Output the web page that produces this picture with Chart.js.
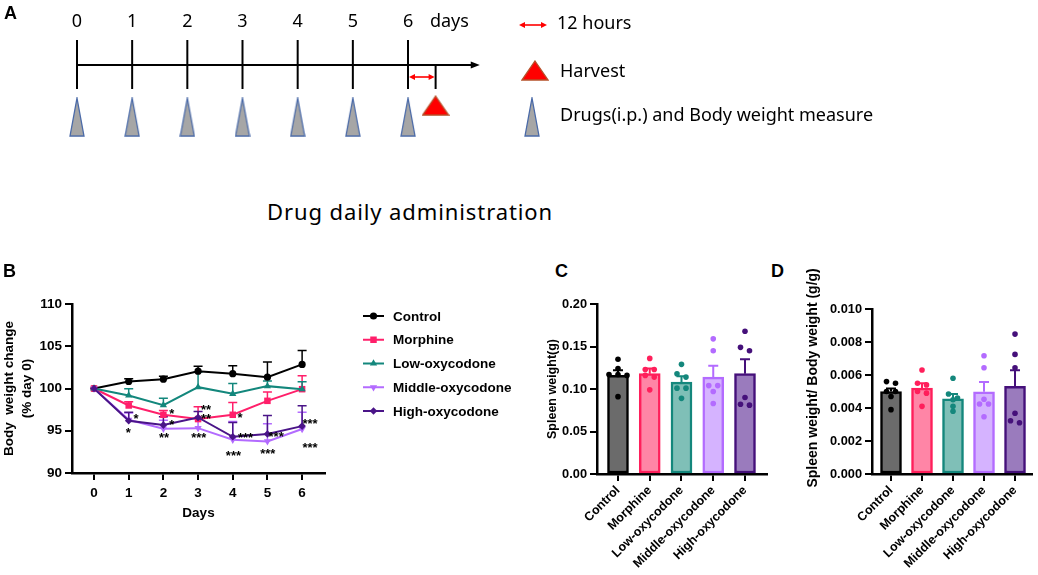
<!DOCTYPE html>
<html>
<head>
<meta charset="utf-8">
<title>Body weight and spleen weight</title>
<script src="https://cdn.jsdelivr.net/npm/chart.js@4.4.1/dist/chart.umd.min.js"></script>
<style>
  body { margin: 0; background: #fff; }
  #page { position: relative; width: 1038px; height: 575px; overflow: hidden; background: #fff; }
  .box { position: absolute; }
  .letter { position: absolute; font: bold 18px "Liberation Sans", Arial, sans-serif; color: #000; line-height: 18px; z-index: 2; }
  #caption { position: absolute; left: 267px; top: 196px; font: 22px "Noto Sans", sans-serif; letter-spacing: 0.9px; color: #000; white-space: nowrap; }
</style>
</head>
<body>
<div id="page">
  <div class="letter" style="left:4px;top:4px">A</div>
  <div class="letter" style="left:3px;top:262px">B</div>
  <div class="letter" style="left:555px;top:262px">C</div>
  <div class="letter" style="left:771px;top:262px">D</div>
  <div id="caption">Drug daily administration</div>

  <div class="box" style="left:0;top:0;width:1038px;height:240px"><canvas id="timeline"></canvas></div>
  <div class="box" style="left:0;top:290px;width:530px;height:231px"><canvas id="weight"></canvas></div>
  <div class="box" style="left:540px;top:290px;width:240px;height:285px"><canvas id="spleen"></canvas></div>
  <div class="box" style="left:800px;top:250px;width:238px;height:325px"><canvas id="ratio"></canvas></div>
</div>

<script>
// ---- A: schedule ----
const timelineDays = [0, 1, 2, 3, 4, 5, 6];
const harvestDay = 6.5;      // 12 hours after the last dose
const timelineEnd = 7.3;

// ---- B: body weight change (% of day 0), mean and SEM ----
const days = [0, 1, 2, 3, 4, 5, 6];
const controlMean  = [100, 100.83, 101.1, 102.05, 101.75, 101.34, 102.85];
const controlSem   = [0, 0.31, 0.36, 0.59, 0.95, 1.81, 1.66];
const morphineMean = [100, 97.99, 96.89, 96.38, 96.89, 98.54, 99.92];
const morphineSem  = [0, 0.45, 0.5, 1.45, 1.46, 1.06, 1.58];
const lowMean      = [100, 99.17, 98.03, 100.16, 99.37, 100.28, 99.92];
const lowSem       = [0, 0.79, 0.83, 1.8, 1.23, 0.6, 0.88];
const middleMean   = [100, 96.3, 95.24, 95.31, 93.94, 93.74, 95.2];
const middleSem    = [0, 0.8, 1.0, 1.2, 2.15, 2.1, 2.0];
const highMean     = [100, 96.18, 95.67, 96.57, 94.29, 94.61, 95.55];
const highSem      = [0, 1.0, 1.0, 0.7, 1.7, 2.2, 2.4];

// significance marks: [day, value, text]
const starMarks = [
  [0.99, 95.12, '*'], [1.21, 96.7, '*'],
  [2.24, 97.28, '*'], [2.24, 95.98, '*'], [2.02, 94.53, '**'],
  [3.23, 97.76, '**'], [3.23, 96.77, '**'], [3.02, 94.45, '***'],
  [4.21, 96.89, '*'], [4.37, 94.45, '***'], [4.02, 92.32, '***'],
  [5.25, 94.65, '***'], [5.01, 92.56, '***'],
  [6.23, 96.1, '***'], [6.23, 93.27, '***']
];

// ---- C / D ----
const groups = ['Control', 'Morphine', 'Low-oxycodone', 'Middle-oxycodone', 'High-oxycodone'];
const groupFill = ['#6b6b6b', '#ff85a6', '#7fbfb7', '#d5b3ff', '#9a7bbd'];
const groupEdge = ['#000000', '#ff1f5b', '#14877c', '#b36bff', '#45107a'];

const spleenMean = [0.116, 0.118, 0.108, 0.114, 0.118];
const spleenSem  = [0.006, 0.006, 0.007, 0.0135, 0.017];
const spleenPoints = [
  [0.135, 0.124, 0.117, 0.117, 0.116, 0.091],
  [0.136, 0.123, 0.123, 0.116, 0.114, 0.099],
  [0.129, 0.118, 0.114, 0.101, 0.101, 0.089],
  [0.159, 0.145, 0.104, 0.104, 0.097, 0.083],
  [0.168, 0.149, 0.145, 0.090, 0.082, 0.081]
];
const spleenTicks = [0, 0.05, 0.10, 0.15, 0.20];

const ratioMean = [0.00500, 0.00520, 0.00455, 0.00498, 0.00532];
const ratioSem  = [0.00018, 0.0003, 0.0003, 0.0006, 0.00097];
const ratioPoints = [
  [0.0056, 0.0055, 0.0050, 0.0050, 0.0047, 0.0039],
  [0.0063, 0.0055, 0.0054, 0.0050, 0.0049, 0.0041],
  [0.0058, 0.00485, 0.0046, 0.0045, 0.0041, 0.0038],
  [0.00717, 0.00644, 0.00453, 0.00424, 0.00424, 0.00347],
  [0.00848, 0.00725, 0.00644, 0.00368, 0.00323, 0.00311]
];
const ratioTicks = [0, 0.002, 0.004, 0.006, 0.008, 0.010];

const BOLD = '"Liberation Sans", Arial, sans-serif';
const PLAIN = '"Noto Sans", sans-serif';

Chart.defaults.animation = false;
Chart.defaults.events = [];
Chart.defaults.color = '#000';
Chart.defaults.font.family = BOLD;
Chart.defaults.plugins.legend.display = false;
Chart.defaults.plugins.tooltip.enabled = false;

const drawPoint = Chart.helpers && Chart.helpers.drawPoint;

// ---------- A ----------
function triangleCanvas(w, h, fill, stroke) {
  const c = document.createElement('canvas');
  c.width = w; c.height = h;
  const g = c.getContext('2d');
  g.beginPath();
  g.moveTo(w / 2, 1); g.lineTo(w - 1, h - 1); g.lineTo(1, h - 1); g.closePath();
  g.fillStyle = fill; g.fill();
  g.lineWidth = 1.3; g.strokeStyle = stroke; g.stroke();
  return c;
}
const drugTri = triangleCanvas(16, 40, '#a6a6a6', '#4a6aa8');
const harvestTri = triangleCanvas(28, 21, '#ff0000', '#b5512a');

function redArrow(ctx, x0, x1, y) {
  ctx.save();
  ctx.strokeStyle = '#ff0000'; ctx.fillStyle = '#ff0000'; ctx.lineWidth = 1.6;
  ctx.beginPath(); ctx.moveTo(x0 + 3, y); ctx.lineTo(x1 - 3, y); ctx.stroke();
  [[x0, 1], [x1, -1]].forEach(([x, d]) => {
    ctx.beginPath(); ctx.moveTo(x, y); ctx.lineTo(x + 6 * d, y - 3); ctx.lineTo(x + 6 * d, y + 3); ctx.closePath(); ctx.fill();
  });
  ctx.restore();
}

const timelinePlugin = {
  id: 'timeline',
  afterDraw(chart) {
    const ctx = chart.ctx, xs = chart.scales.x;
    const px = d => xs.getPixelForValue(d);
    ctx.save();
    ctx.strokeStyle = '#000'; ctx.lineWidth = 2;
    // main axis + arrow head
    const tip = px(timelineEnd);
    ctx.beginPath(); ctx.moveTo(px(0), 65); ctx.lineTo(tip - 6, 65); ctx.stroke();
    ctx.fillStyle = '#000';
    ctx.beginPath(); ctx.moveTo(tip, 65); ctx.lineTo(tip - 9, 61.5); ctx.lineTo(tip - 9, 68.5); ctx.closePath(); ctx.fill();
    timelineDays.forEach(d => {
      ctx.beginPath(); ctx.moveTo(px(d), 40); ctx.lineTo(px(d), 89); ctx.stroke();
    });
    ctx.beginPath(); ctx.moveTo(px(harvestDay), 65); ctx.lineTo(px(harvestDay), 89); ctx.stroke();
    redArrow(ctx, px(6) + 1, px(harvestDay) - 1, 77);

    ctx.font = '18px ' + PLAIN;
    ctx.textAlign = 'center'; ctx.textBaseline = 'middle';
    timelineDays.forEach(d => ctx.fillText(String(d), px(d), 22));
    ctx.fillText('days', px(6.75), 22);

    // key
    ctx.textAlign = 'left';
    redArrow(ctx, 519, 547, 25);
    ctx.fillText('12 hours', 557, 24);
    ctx.drawImage(harvestTri, 521, 60);
    ctx.fillText('Harvest', 560, 72);
    ctx.drawImage(drugTri, 524, 97);
    ctx.fillText('Drugs(i.p.) and Body weight measure', 560, 116);
    ctx.restore();
  }
};

new Chart(document.getElementById('timeline'), {
  type: 'scatter',
  data: {
    datasets: [
      { label: 'Drugs(i.p.) and Body weight measure', data: timelineDays.map(d => ({ x: d, y: 117 })), pointStyle: drugTri },
      { label: 'Harvest', data: [{ x: harvestDay, y: 105 }], pointStyle: harvestTri }
    ]
  },
  options: {
    responsive: true, maintainAspectRatio: false,
    layout: { padding: { left: 21.8, right: 574.8, top: 0, bottom: 0 } },
    scales: {
      x: { type: 'linear', min: -1, max: 7, display: false },
      y: { min: 0, max: 240, reverse: true, display: false }
    }
  },
  plugins: [timelinePlugin]
});

// ---------- B ----------
const lineSeries = [
  { label: 'Control', mean: controlMean, sem: controlSem, color: '#000000', style: 'circle', radius: 3.6, rotation: 0 },
  { label: 'Morphine', mean: morphineMean, sem: morphineSem, color: '#ff1f6a', style: 'rect', radius: 4.6, rotation: 0 },
  { label: 'Low-oxycodone', mean: lowMean, sem: lowSem, color: '#13877c', style: 'triangle', radius: 4.2, rotation: 0 },
  { label: 'Middle-oxycodone', mean: middleMean, sem: middleSem, color: '#b36bff', style: 'triangle', radius: 4.2, rotation: 180 },
  { label: 'High-oxycodone', mean: highMean, sem: highSem, color: '#4a1488', style: 'rectRot', radius: 3.8, rotation: 0 }
];

const weightErrorBars = {
  id: 'weightErrorBars',
  beforeDatasetsDraw(chart) {
    const ctx = chart.ctx, xs = chart.scales.x, ys = chart.scales.y;
    ctx.save();
    ctx.lineWidth = 1.5;
    chart.data.datasets.forEach(ds => {
      ctx.strokeStyle = ds.borderColor;
      ds.sem.forEach((s, j) => {
        if (!s) return;
        const x = xs.getPixelForValue(days[j]);
        const y0 = ys.getPixelForValue(ds.mean[j]);
        const y1 = ys.getPixelForValue(ds.mean[j] + s);
        ctx.beginPath();
        ctx.moveTo(x, y0); ctx.lineTo(x, y1);
        ctx.moveTo(x - 4.5, y1); ctx.lineTo(x + 4.5, y1);
        ctx.stroke();
      });
    });
    ctx.restore();
  },
  afterDatasetsDraw(chart) {
    const ctx = chart.ctx, xs = chart.scales.x, ys = chart.scales.y;
    ctx.save();
    ctx.font = 'bold 13px ' + BOLD;
    ctx.fillStyle = '#000'; ctx.textAlign = 'center'; ctx.textBaseline = 'alphabetic';
    starMarks.forEach(([d, v, t]) => ctx.fillText(t, xs.getPixelForValue(d), ys.getPixelForValue(v) + 7));
    ctx.restore();
  },
  afterDraw(chart) {
    const ctx = chart.ctx;
    ctx.save();
    ctx.font = 'bold 13.5px ' + BOLD;
    ctx.textBaseline = 'middle'; ctx.textAlign = 'left';
    lineSeries.forEach((s, k) => {
      const y = 26 + k * 23.75;
      ctx.strokeStyle = s.color; ctx.fillStyle = s.color; ctx.lineWidth = 2;
      ctx.beginPath(); ctx.moveTo(363, y); ctx.lineTo(384, y); ctx.stroke();
      if (drawPoint) drawPoint(ctx, { pointStyle: s.style, radius: s.radius, rotation: s.rotation, borderWidth: 0 }, 373.5, y);
      ctx.fillStyle = '#000';
      ctx.fillText(s.label, 393, y + 1);
    });
    ctx.restore();
  }
};

const axisTickGrid = { display: true, drawOnChartArea: false, drawTicks: true, tickLength: 7, color: '#000', lineWidth: 2 };
const axisBorder = { display: true, color: '#000', width: 2.5 };

new Chart(document.getElementById('weight'), {
  type: 'line',
  data: {
    datasets: lineSeries.map((s, i) => ({
      label: s.label,
      data: days.map((d, j) => ({ x: d, y: s.mean[j] })),
      mean: s.mean, sem: s.sem,
      borderColor: s.color, backgroundColor: s.color,
      borderWidth: 2, tension: 0, fill: false,
      pointStyle: s.style, pointRadius: s.radius, pointRotation: s.rotation,
      pointBackgroundColor: s.color, pointBorderWidth: 0,
      order: lineSeries.length - i
    }))
  },
  options: {
    responsive: true, maintainAspectRatio: false,
    layout: { padding: { left: 0, right: 205, top: 14, bottom: 0 } },
    scales: {
      x: {
        type: 'linear', min: -0.635, max: 6.66,
        afterBuildTicks: s => { s.ticks = days.map(v => ({ value: v })); },
        afterFit: s => { s.height = 48; },
        ticks: { autoSkip: false, maxRotation: 0, padding: 5, font: { size: 13.5, weight: 'bold' } },
        grid: axisTickGrid, border: axisBorder,
        title: { display: true, text: 'Days', padding: 0, font: { size: 13.5, weight: 'bold' } }
      },
      y: {
        min: 90, max: 110,
        afterBuildTicks: s => { s.ticks = [90, 95, 100, 105, 110].map(v => ({ value: v })); },
        afterFit: s => { s.width = 72; },
        ticks: { padding: 3, font: { size: 13.5, weight: 'bold' } },
        grid: axisTickGrid, border: axisBorder,
        title: { display: true, text: ['Body  weight change', '(% day 0)'], padding: 0, font: { size: 13.5, weight: 'bold', lineHeight: 1.35 } }
      }
    }
  },
  plugins: [weightErrorBars]
});

// ---------- C / D ----------
// points whose values sit within tol share a row and are fanned out sideways
function spread(values, tol, step) {
  const order = values.map((v, i) => i).sort((a, b) => values[b] - values[a]);
  const offs = new Array(values.length).fill(0);
  let k = 0;
  while (k < order.length) {
    let j = k;
    while (j + 1 < order.length && values[order[k]] - values[order[j + 1]] < tol) j++;
    const n = j - k + 1;
    for (let m = 0; m < n; m++) offs[order[k + m]] = (m - (n - 1) / 2) * step;
    k = j + 1;
  }
  return offs;
}

const barErrorBars = {
  id: 'barErrorBars',
  afterDatasetDraw(chart, args) {
    if (args.meta.type !== 'bar') return;
    const ds = chart.data.datasets[args.index];
    const ctx = chart.ctx, xs = chart.scales.x, ys = chart.scales.y;
    ctx.save();
    ctx.lineWidth = 2;
    ds.sem.forEach((s, i) => {
      const x = xs.getPixelForValue(i);
      const y0 = ys.getPixelForValue(ds.data[i].y);
      const y1 = ys.getPixelForValue(ds.data[i].y + s);
      ctx.strokeStyle = groupEdge[i];
      ctx.beginPath();
      ctx.moveTo(x, y0); ctx.lineTo(x, y1);
      ctx.moveTo(x - 5, y1); ctx.lineTo(x + 5, y1);
      ctx.stroke();
    });
    ctx.restore();
  }
};

function barPanel(id, o) {
  const pts = [], cols = [];
  o.points.forEach((vals, i) => {
    const offs = spread(vals, o.tol, o.step);
    vals.forEach((v, k) => { pts.push({ x: i + offs[k], y: v }); cols.push(groupEdge[i]); });
  });
  new Chart(document.getElementById(id), {
    type: 'bar',
    data: {
      datasets: [
        {
          type: 'bar', data: groups.map((g, i) => ({ x: i, y: o.mean[i] })), sem: o.sem,
          backgroundColor: groupFill, borderColor: groupEdge, borderWidth: 2.5, borderSkipped: false,
          barThickness: 21, order: 2
        },
        {
          type: 'scatter', data: pts, pointBackgroundColor: cols, pointBorderWidth: 0,
          pointRadius: 2.8, order: 1
        }
      ]
    },
    options: {
      responsive: true, maintainAspectRatio: false,
      layout: { padding: o.padding },
      scales: {
        x: {
          type: 'linear', min: o.xmin, max: o.xmax, offset: false,
          afterBuildTicks: s => { s.ticks = groups.map((g, i) => ({ value: i })); },
          afterFit: s => { s.height = o.xHeight; },
          ticks: {
            autoSkip: false, minRotation: 45, maxRotation: 45, padding: 2,
            font: { size: 12.5, weight: 'bold' },
            callback: (v, i) => groups[i]
          },
          grid: Object.assign({}, axisTickGrid, { offset: false }), border: axisBorder
        },
        y: {
          min: 0, max: o.ticks[o.ticks.length - 1],
          afterBuildTicks: s => { s.ticks = o.ticks.map(v => ({ value: v })); },
          afterFit: s => { s.width = o.yWidth; },
          ticks: { padding: 3, font: { size: 12.8, weight: 'bold' }, callback: v => v.toFixed(o.decimals) },
          grid: axisTickGrid, border: axisBorder,
          title: { display: true, text: o.title, padding: { top: o.titlePad, bottom: 0 }, font: { size: o.titleSize, weight: 'bold', lineHeight: 1.35 } }
        }
      }
    },
    plugins: [barErrorBars]
  });
}

barPanel('spleen', {
  mean: spleenMean, sem: spleenSem, points: spleenPoints, ticks: spleenTicks, decimals: 2,
  title: 'Spleen weight(g)', titlePad: 4, titleSize: 12.5,
  tol: 0.0059, step: 0.283,
  xmin: -0.661, xmax: 4.693, yWidth: 57, xHeight: 101,
  padding: { left: 0, right: 13, top: 14, bottom: 0 }
});

// leading spaces lift the label a little above the axis centre, as in the original
barPanel('ratio', {
  mean: ratioMean, sem: ratioSem, points: ratioPoints, ticks: ratioTicks, decimals: 3,
  title: '       Spleen weight/ Body weight (g/g)', titlePad: 3.5, titleSize: 14,
  tol: 0.00028, step: 0.29,
  xmin: -0.613, xmax: 4.548, yWidth: 72, xHeight: 101,
  padding: { left: 0, right: 6, top: 59, bottom: 0 }
});
</script>
</body>
</html>
